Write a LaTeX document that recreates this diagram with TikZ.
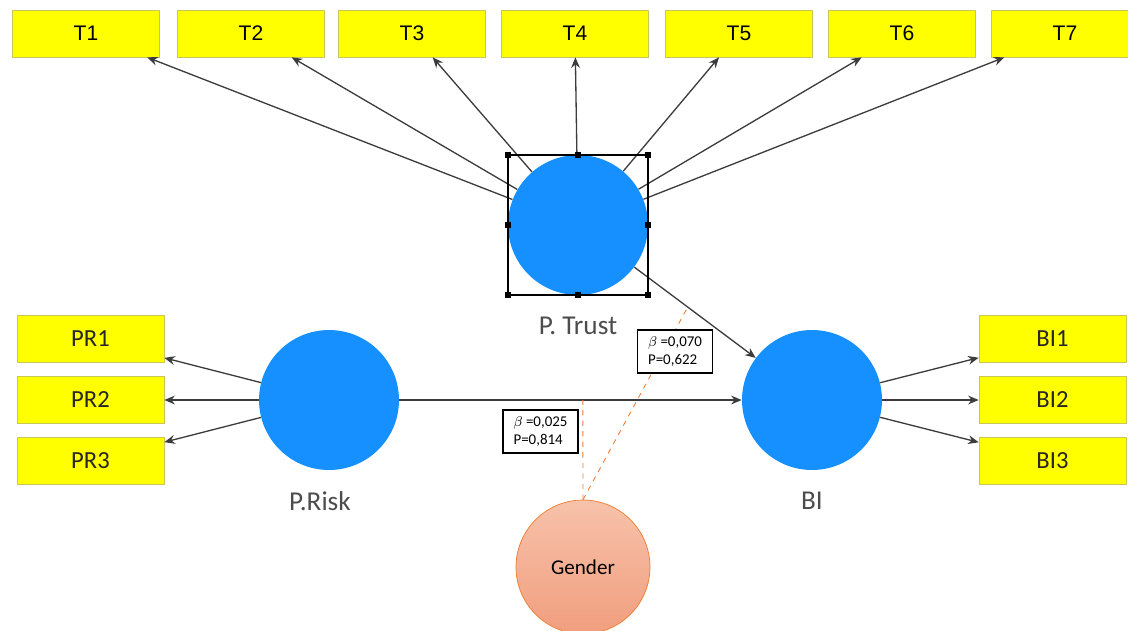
\documentclass[tikz,border=0pt]{standalone}
\usepackage{fontspec}
\setmainfont{Carlito}
\newfontfamily\arialfont{Liberation Sans}
\usetikzlibrary{positioning,arrows.meta,calc}
\definecolor{lvblue}{RGB}{22,144,255}
\definecolor{itemyellow}{RGB}{255,255,0}
\definecolor{itemline}{RGB}{200,200,90}
\definecolor{linegray}{RGB}{60,60,60}
\definecolor{modorange}{RGB}{237,125,49}
\definecolor{gendertop}{RGB}{247,194,170}
\definecolor{genderbot}{RGB}{241,158,126}

\begin{document}
\begin{tikzpicture}[
  x=0.02cm, y=-0.02cm,
  item/.style={rectangle, draw=itemline, fill=itemyellow, minimum width=2.94cm, minimum height=0.94cm, inner sep=0pt, text=black!85, font=\fontsize{14}{16}\selectfont},
  titem/.style={item, text=black, font=\arialfont\fontsize{12}{14}\selectfont},
  latent/.style={circle, fill=lvblue, minimum size=2.8cm, inner sep=0pt},
  gendercirc/.style={circle, draw=modorange, top color=gendertop, bottom color=genderbot, minimum size=2.68cm, inner sep=0pt, font=\fontsize{12}{14}\selectfont},
  arr/.style={-{Stealth[length=6pt, width=5pt]}, draw=linegray, line width=0.75pt},
  lbl/.style={text=black!70, font=\fontsize{15.5}{18}\selectfont},
  stat/.style={rectangle, draw, fill=white, line width=0.6pt, minimum width=1.5cm, minimum height=0.86cm, align=left, font=\fontsize{8.5}{10.5}\selectfont},
  modline/.style={dashed, draw=modorange, line width=0.5pt},
  handle/.style={rectangle, fill=black, minimum size=0.13cm, inner sep=0pt}
]
  \useasboundingbox (0,0) rectangle (1128,630);

  % latent variables
  \node[latent] (trust) at (578,225) {};
  \node[latent] (risk)  at (329,400) {};
  \node[latent] (bi)    at (812,400) {};
  \node[gendercirc] (gender) at (583,567) {Gender};

  \node[lbl] (trustlbl) at (578,326) {P. Trust};
  \node[lbl] (risklbl)  at (320,501) {P.Risk};
  \node[lbl] (bilbl)    at (812,501) {BI};

  % indicators
  \foreach \i/\x in {1/86,2/251,3/412,4/575,5/739,6/902,7/1065}
    \node[titem] (T\i) at (\x,33.5) {T\i};
  \foreach \i/\y in {1/339,2/400,3/461} {
    \node[item] (PR\i) at (90.5,\y) {PR\i};
    \node[item] (BI\i) at (1052.5,\y) {BI\i};
  }

  \foreach \i in {1,...,7}
    \draw[arr] (trust) -- (T\i);
  \foreach \i in {1,2,3} {
    \draw[arr] (risk) -- (PR\i);
    \draw[arr] (bi) -- (BI\i);
  }

  % structural paths
  \draw[arr] (trust) -- (bi) coordinate[pos=0.44] (mtb);
  \draw[arr] (risk) -- (bi) coordinate[pos=0.536] (mrb);

  % moderation
  \draw[modline] (gender.north) -- (mrb);
  \draw[modline] (gender.north) -- (mtb);
  \node[stat] (stat1) at (540.5,431.5) {$\beta$ =0,025\\P=0,814};
  \node[stat] (stat2) at (675,351.5) {$\beta$ =0,070\\P=0,622};

  % selection frame
  \draw[line width=0.6pt] ($(trust)+(-70,-70)$) rectangle ($(trust)+(70,70)$);
  \foreach \dx/\dy [count=\k] in {-70/-70,0/-70,70/-70,70/0,70/70,0/70,-70/70,-70/0}
    \node[handle] (h\k) at ($(trust)+(\dx,\dy)$) {};
\end{tikzpicture}
\end{document}
